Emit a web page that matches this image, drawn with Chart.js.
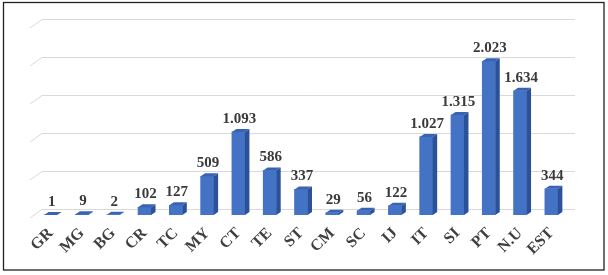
<!DOCTYPE html>
<html>
<head>
<meta charset="utf-8">
<script src="https://cdn.jsdelivr.net/npm/chart.js@4/dist/chart.umd.min.js"></script>
<style>
  html, body { margin: 0; padding: 0; background: #fff; }
  #wrap { position: relative; width: 608px; height: 275px; }
</style>
</head>
<body>
<div id="wrap"><canvas id="barChart" width="608" height="275"></canvas></div>
<script>
// categories and values
var labels = ['GR','MG','BG','CR','TC','MY','CT','TE','ST','CM','SC','IJ','IT','SI','PT','N.U','EST'];
var values = [1, 9, 2, 102, 127, 509, 1093, 586, 337, 29, 56, 122, 1027, 1315, 2023, 1634, 344];
var gridTicks = [0, 500, 1000, 1500, 2000, 2500];

var DX = 4.5, DY = 3;          // depth of the bars
var WX = 7, WY = 5.5;          // depth of the back wall

function fmt(v) {
  return String(v).replace(/\B(?=(\d{3})+(?!\d))/g, '.');
}

var frame = {
  id: 'frame',
  beforeDraw: function(chart) {
    var c = chart.ctx;
    c.save();
    c.strokeStyle = '#222';
    c.lineWidth = 1.3;
    c.strokeRect(3.5, 2.5, 600.5, 267.5);
    c.restore();
  }
};

var wall = {
  id: 'wall',
  beforeDatasetsDraw: function(chart) {
    var c = chart.ctx, y = chart.scales.y, a = chart.chartArea;
    c.save();
    c.strokeStyle = '#d9d9d9';
    c.lineWidth = 1;
    gridTicks.forEach(function(v) {
      var py = y.getPixelForValue(v);
      c.beginPath();
      c.moveTo(a.left - 5, py + 3);
      c.lineTo(a.left + WX, py - WY);
      c.lineTo(a.right + WX + 1, py - WY);
      c.stroke();
    });
    c.restore();
  }
};

var bars3d = {
  id: 'bars3d',
  afterDatasetsDraw: function(chart) {
    var c = chart.ctx;
    var meta = chart.getDatasetMeta(0);
    c.save();
    meta.data.forEach(function(bar, i) {
      var w = bar.width, l = bar.x - w / 2, r = bar.x + w / 2;
      var top = bar.y, base = bar.base;
      // side face
      c.fillStyle = '#2b5299';
      c.beginPath();
      c.moveTo(r, top); c.lineTo(r + DX, top - DY);
      c.lineTo(r + DX, base - DY); c.lineTo(r, base);
      c.closePath(); c.fill();
      // top face
      c.fillStyle = '#3763b4';
      c.beginPath();
      c.moveTo(l, top); c.lineTo(l + DX, top - DY);
      c.lineTo(r + DX, top - DY); c.lineTo(r, top);
      c.closePath(); c.fill();
      // value label
      c.fillStyle = '#3a3a3a';
      c.font = 'bold 15px "Liberation Serif", "Times New Roman", serif';
      c.textAlign = 'center';
      c.textBaseline = 'middle';
      c.fillText(fmt(values[i]), bar.x + 1, top - 13);
    });
    c.restore();
  }
};

var ctx = document.getElementById('barChart').getContext('2d');

var chart = new Chart(ctx, {
  type: 'bar',
  data: {
    labels: labels,
    datasets: [{
      data: values,
      backgroundColor: function(context) {
        var el = context.element;
        if (!el || !el.width) return '#4472c4';
        var g = context.chart.ctx.createLinearGradient(el.x - el.width / 2, 0, el.x + el.width / 2, 0);
        g.addColorStop(0, '#3f6bba');
        g.addColorStop(0.5, '#4a78c8');
        g.addColorStop(1, '#3f6bba');
        return g;
      },
      borderWidth: 0,
      barThickness: 13
    }]
  },
  options: {
    responsive: false,
    animation: false,
    layout: { padding: { left: 35, right: 41, top: 25, bottom: 0 } },
    plugins: { legend: { display: false }, tooltip: { enabled: false } },
    scales: {
      x: {
        grid: { display: false },
        border: { display: false },
        afterFit: function(scale) { scale.height = 60; },
        ticks: {
          autoSkip: false,
          minRotation: 45,
          maxRotation: 45,
          padding: 1,
          color: '#404040',
          font: { family: '"Liberation Serif", "Times New Roman", serif', size: 16, weight: 'bold' }
        }
      },
      y: {
        display: false,
        min: 0,
        max: 2500
      }
    }
  },
  plugins: [frame, wall, bars3d]
});
</script>
</body>
</html>
